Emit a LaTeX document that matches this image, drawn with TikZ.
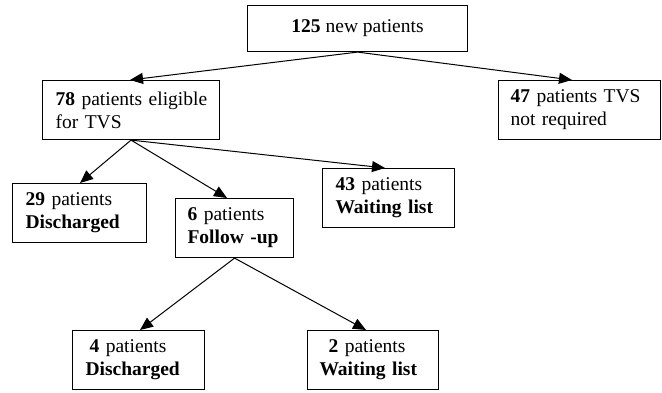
\documentclass[tikz,border=0pt]{standalone}
\usepackage{fontspec}
\setmainfont{Liberation Serif}
\usetikzlibrary{arrows.meta}
\begin{document}
\begin{tikzpicture}[x=1pt,y=-1pt,
  box/.style={draw, line width=1.1pt, anchor=north west, align=left, inner ysep=0pt,
    minimum height=59pt, font=\fontsize{19.5}{23}\selectfont},
  arr/.style={line width=1pt, -{Triangle[length=13pt,width=11pt]}}]
\useasboundingbox (0,0) rectangle (662,393);
\node[box, minimum width=220pt, minimum height=46pt, align=center] (n125) at (247,5) {\textbf{125} new patients};
\node[box, text width=151pt, inner xsep=13pt] (n78) at (42,80) {\mbox{\textbf{78} patients eligible}\\for TVS};
\node[box, text width=138pt, inner xsep=12pt] (n47) at (498,80) {\mbox{\textbf{47} patients TVS}\\not required};
\node[box, text width=108pt, inner xsep=13pt] (n29) at (12,183) {\mbox{\textbf{29} patients}\\\textbf{Discharged}};
\node[box, text width=94pt, inner xsep=12pt] (n6) at (175,198) {\mbox{\textbf{6} patients}\\\textbf{Follow -up}};
\node[box, text width=106pt, inner xsep=13pt] (n43) at (322,168) {\mbox{\textbf{43} patients}\\\textbf{Waiting list}};
\node[box, text width=106pt, inner xsep=13pt] (n4) at (72,330) {\mbox{\hspace*{4pt}\textbf{4} patients}\\\textbf{Discharged}};
\node[box, text width=107pt, inner xsep=12pt] (n2) at (307,330) {\mbox{\hspace*{9pt}\textbf{2} patients}\\\textbf{Waiting list}};
\draw[arr] (n125.south) -- ([xshift=88pt]n78.north west);
\draw[arr] (n125.south) -- ([xshift=74pt]n47.north west);
\draw[arr] (n78.south) -- ([xshift=68pt]n29.north west);
\draw[arr] (n78.south) -- ([xshift=52pt]n6.north west);
\draw[arr] (n78.south) -- ([xshift=63pt]n43.north west);
\draw[arr] (n6.south) -- ([xshift=68pt]n4.north west);
\draw[arr] (n6.south) -- ([xshift=59pt]n2.north west);
\end{tikzpicture}
\end{document}
